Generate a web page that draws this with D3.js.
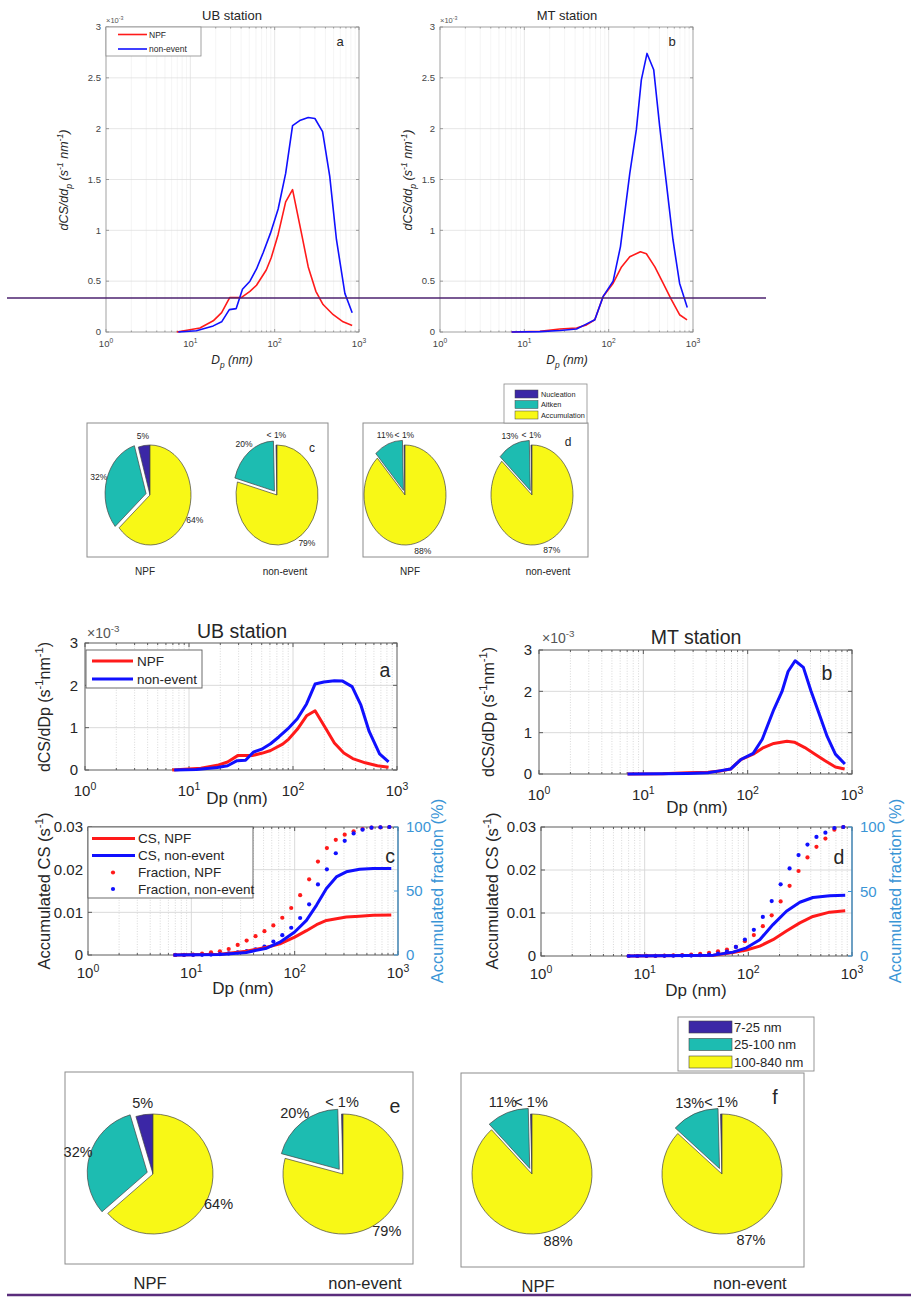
<!DOCTYPE html>
<html>
<head>
<meta charset="utf-8">
<script src="https://cdn.jsdelivr.net/npm/d3@7"></script>
<style>
  body { margin: 0; background: #fff; }
  svg { display: block; }
  text { font-family: "Liberation Sans", Arial, Helvetica, sans-serif; }
</style>
</head>
<body>
<svg id="fig" width="911" height="1297"></svg>
<script>
// ---------------------------------------------------------------
// Size-resolved condensation sink dCS/dDp (units of 1e-3 s^-1 nm^-1)
// ---------------------------------------------------------------
const ubNpfDp  = [6.9, 13, 18.7, 23.5, 29.4, 40.5, 50.9, 60.9, 79.5, 91, 110, 135, 163, 208, 250, 308, 375, 495, 648, 830];
const ubNpfCS  = [0, 0.04, 0.11, 0.19, 0.34, 0.34, 0.40, 0.46, 0.61, 0.73, 0.96, 1.28, 1.40, 0.97, 0.64, 0.40, 0.27, 0.17, 0.10, 0.065];
const ubNonDp  = [7.2, 11.8, 18.7, 23.5, 29, 35, 41.5, 50.9, 60.9, 73, 89, 110, 135, 163, 198, 250, 300, 370, 450, 540, 680, 830];
const ubNonCS  = [0, 0.013, 0.06, 0.10, 0.22, 0.23, 0.42, 0.50, 0.62, 0.78, 0.97, 1.21, 1.56, 2.03, 2.08, 2.11, 2.10, 1.97, 1.53, 0.91, 0.38, 0.19];
const mtNpfDp  = [7.06, 15.3, 26.4, 41.6, 54.6, 68.5, 86, 113, 142, 178, 238, 280, 353, 442, 552, 693, 850];
const mtNpfCS  = [0, 0.007, 0.03, 0.04, 0.07, 0.12, 0.35, 0.48, 0.64, 0.74, 0.79, 0.77, 0.64, 0.48, 0.32, 0.17, 0.12];
const mtNonDp  = [7.06, 15.3, 26.4, 41.6, 52, 68.5, 86, 113, 138, 178, 213, 244, 285, 342, 403, 484, 578, 693, 855];
const mtNonCS  = [0, 0.004, 0.015, 0.03, 0.07, 0.12, 0.35, 0.50, 0.84, 1.56, 1.99, 2.48, 2.74, 2.58, 2.02, 1.46, 0.91, 0.48, 0.24];

// Accumulated condensation sink (s^-1)
const ubAccDp  = [6.7, 19, 34, 53.5, 72, 100, 130, 163, 203, 253, 316, 425, 575, 861];
const ubAccNpf = [0, 0.0002, 0.0009, 0.0018, 0.0026, 0.0042, 0.0057, 0.0071, 0.0081, 0.0085, 0.0089, 0.0091, 0.0093, 0.0094];
const ubAccNon = [0, 0.0001, 0.0006, 0.0016, 0.0030, 0.0054, 0.0081, 0.0117, 0.0156, 0.0183, 0.0195, 0.0201, 0.0203, 0.0203];
const mtAccDp  = [6.9, 46, 71, 96, 129, 173, 233, 314, 420, 609, 860];
const mtAccNpf = [0, 0.0002, 0.0008, 0.0014, 0.0023, 0.0038, 0.0058, 0.0077, 0.0092, 0.0102, 0.0105];
const mtAccNon = [0, 0.0002, 0.0009, 0.0019, 0.0038, 0.0073, 0.0104, 0.0125, 0.0136, 0.0140, 0.0141];

// Accumulated fraction of CS per size bin (%)
const binDp      = [7.0, 8.5, 10.4, 12.7, 15.5, 18.9, 23.0, 28.1, 34.3, 41.8, 51.0, 62.2, 75.9, 92.6, 113, 138, 168, 205, 250, 305, 372, 454, 554, 676, 825];
const ubFracNpf  = [0, 0.1, 0.3, 1.0, 2.1, 2.9, 4.7, 7.9, 11.3, 14.7, 18.6, 23.1, 29.1, 36.7, 46.7, 59.1, 73.0, 83.5, 90.0, 94.0, 96.6, 98.4, 99.5, 99.7, 100];
const ubFracNon  = [0, 0, 0.05, 0.1, 0.3, 0.7, 1.2, 2.0, 3.0, 4.5, 6.6, 10.5, 15.5, 21.3, 28.9, 39.6, 55.1, 66.9, 79.5, 89.2, 95.0, 97.9, 99.5, 99.8, 100];
const mtFracNpf  = [0, 0, 0.1, 0.2, 0.3, 0.5, 0.7, 1.0, 1.6, 2.5, 3.6, 5.0, 7.0, 11.5, 16.2, 23.1, 31.5, 42.3, 54.4, 65.9, 76.4, 84.6, 91.0, 97.9, 100];
const mtFracNon  = [0, 0, 0, 0.05, 0.1, 0.2, 0.3, 0.3, 0.6, 1.0, 1.8, 3.5, 7.0, 12.8, 20.3, 30.3, 42.6, 55.6, 67.9, 78.2, 86.4, 92.3, 95.6, 99.2, 100];

// Mode contributions to total CS
const modeNames   = ["Nucleation", "Aitken", "Accumulation"];
const rangeNames  = ["7-25 nm", "25-100 nm", "100-840 nm"];
const ubNpfShare  = [0.046, 0.318, 0.636];
const ubNpfLabels = ["5%", "32%", "64%"];
const ubNonShare  = [0.004, 0.204, 0.792];
const ubNonLabels = ["< 1%", "20%", "79%"];
const mtNpfShare  = [0.004, 0.114, 0.882];
const mtNpfLabels = ["< 1%", "11%", "88%"];
const mtNonShare  = [0.004, 0.128, 0.868];
const mtNonLabels = ["< 1%", "13%", "87%"];

// Axis tick values
const xDecades   = [1, 10, 100, 1000];
const xExponents = ["0", "1", "2", "3"];
const topYTicks  = [0, 0.5, 1, 1.5, 2, 2.5, 3];
const botYTicks  = [0, 1, 2, 3];
const accYTicks  = [0, 0.01, 0.02, 0.03];
const fracTicks  = [0, 50, 100];

// ---------------------------------------------------------------
const svg = d3.select("#fig");
const INK = "#262626";
const RED = "#ff1a1a";
const BLUE = "#1010ff";
const RBLUE = "#3a95d6";
const PIE_COLORS = ["#3b27a6", "#1dbcb1", "#f8f816"];

// text with optional super/subscript runs; y is the baseline
function label(parent, x, y, fs, anchor, parts, opts = {}) {
  const t = parent.append("text").attr("x", x).attr("y", y)
    .attr("font-size", fs).attr("text-anchor", anchor)
    .attr("fill", opts.fill || INK);
  if (opts.italic) t.attr("font-style", "italic");
  if (opts.rotate) t.attr("transform", `rotate(${opts.rotate},${x},${y})`);
  if (typeof parts === "string") parts = [[parts, "n"]];
  let shift = 0;
  parts.forEach(([s, k]) => {
    const target = k === "sup" ? -0.42 * fs : k === "sub" ? 0.3 * fs : 0;
    const ts = t.append("tspan").text(s).attr("dy", target - shift);
    if (k !== "n") ts.attr("font-size", fs * 0.7);
    shift = target;
  });
  return t;
}

// log-x axes box with grid and inward ticks
function logPanel(o) {
  const g = svg.append("g");
  const x = d3.scaleLog().domain([1, 1000]).range([o.x0, o.x1]);
  const y = d3.scaleLinear().domain([0, o.ymax]).range([o.y1, o.y0]);
  const minors = [];
  [1, 10, 100].forEach(d => [2, 3, 4, 5, 6, 7, 8, 9].forEach(m => minors.push(d * m)));

  g.selectAll(null).data(minors).join("line")
    .attr("x1", d => x(d)).attr("x2", d => x(d)).attr("y1", o.y0).attr("y2", o.y1)
    .attr("stroke", o.minorColor).attr("stroke-width", o.minorW)
    .attr("stroke-dasharray", o.minorDash || null);
  g.selectAll(null).data([10, 100]).join("line")
    .attr("x1", d => x(d)).attr("x2", d => x(d)).attr("y1", o.y0).attr("y2", o.y1)
    .attr("stroke", o.majorColor).attr("stroke-width", o.majorW);
  g.selectAll(null).data(o.yticks.slice(1, -1)).join("line")
    .attr("x1", o.x0).attr("x2", o.x1).attr("y1", d => y(d)).attr("y2", d => y(d))
    .attr("stroke", o.majorColor).attr("stroke-width", o.majorW);

  g.append("rect").attr("x", o.x0).attr("y", o.y0)
    .attr("width", o.x1 - o.x0).attr("height", o.y1 - o.y0)
    .attr("fill", "none").attr("stroke", o.boxColor).attr("stroke-width", o.boxW);

  const tl = o.tickLen;
  const tickG = g.append("g").attr("stroke", o.boxColor).attr("stroke-width", o.boxW);
  xDecades.forEach(d => {
    tickG.append("line").attr("x1", x(d)).attr("x2", x(d)).attr("y1", o.y1).attr("y2", o.y1 - tl);
    tickG.append("line").attr("x1", x(d)).attr("x2", x(d)).attr("y1", o.y0).attr("y2", o.y0 + tl);
  });
  minors.forEach(d => {
    tickG.append("line").attr("x1", x(d)).attr("x2", x(d)).attr("y1", o.y1).attr("y2", o.y1 - tl * 0.5);
    tickG.append("line").attr("x1", x(d)).attr("x2", x(d)).attr("y1", o.y0).attr("y2", o.y0 + tl * 0.5);
  });
  o.yticks.forEach(v => {
    tickG.append("line").attr("x1", o.x0).attr("x2", o.x0 + tl).attr("y1", y(v)).attr("y2", y(v));
    if (!o.rightAxis)
      tickG.append("line").attr("x1", o.x1).attr("x2", o.x1 - tl).attr("y1", y(v)).attr("y2", y(v));
  });

  xDecades.forEach((d, i) => {
    label(g, x(d), o.y1 + o.xTickDy, o.fs, "middle", [["10", "n"], [xExponents[i], "sup"]], { fill: o.tickFill });
  });
  o.yticks.forEach(v => {
    label(g, o.x0 - o.yTickGap, y(v) + o.fs * 0.35, o.fs, "end", o.yfmt(v), { fill: o.tickFill });
  });
  return { g, x, y };
}

function drawLine(p, xs, ys, color, w) {
  p.g.append("path").datum(d3.zip(xs, ys))
    .attr("d", d3.line().x(d => p.x(d[0])).y(d => p.y(d[1])))
    .attr("fill", "none").attr("stroke", color).attr("stroke-width", w)
    .attr("stroke-linejoin", "round");
}

// ---------------- upper figure: size distributions ----------------
const topStyle = {
  y0: 27, y1: 332, ymax: 3, yticks: topYTicks, yfmt: v => String(v),
  fs: 9.5, tickFill: "#444", xTickDy: 15, yTickGap: 5, tickLen: 3,
  minorColor: "#efefef", minorW: 0.6, majorColor: "#dcdcdc", majorW: 0.7,
  boxColor: "#8a8a8a", boxW: 0.8
};
const tA = logPanel(Object.assign({ x0: 106, x1: 359 }, topStyle));
const tB = logPanel(Object.assign({ x0: 440, x1: 693 }, topStyle));
drawLine(tA, ubNpfDp, ubNpfCS, RED, 1.6);
drawLine(tA, ubNonDp, ubNonCS, BLUE, 1.6);
drawLine(tB, mtNpfDp, mtNpfCS, RED, 1.6);
drawLine(tB, mtNonDp, mtNonCS, BLUE, 1.6);

[[tA, "UB station", "a", 232, 340, 68], [tB, "MT station", "b", 567, 672, 412]].forEach(([p, title, tag, cx, tx, lx]) => {
  label(svg, cx, 20, 13, "middle", title);
  label(svg, tx, 46, 13, "middle", tag);
  label(svg, p.x(1), 23, 7.5, "start", [["\u00d710", "n"], ["-3", "sup"]], { fill: "#555" });
  label(svg, cx, 364, 12, "middle", [["D", "n"], ["p", "sub"], [" (nm)", "n"]], { italic: true });
  label(svg, lx, 180, 12.5, "middle",
    [["dCS/dd", "n"], ["p", "sub"], [" (s", "n"], ["-1", "sup"], [" nm", "n"], ["-1", "sup"], [")", "n"]],
    { italic: true, rotate: -90 });
});

// legend of the upper panel a
{
  const lg = svg.append("g");
  lg.append("rect").attr("x", 106).attr("y", 27).attr("width", 95).attr("height", 29)
    .attr("fill", "#fff").attr("stroke", "#8a8a8a").attr("stroke-width", 0.8);
  [["NPF", RED, 34.5], ["non-event", BLUE, 49]].forEach(([t, c, yy]) => {
    lg.append("line").attr("x1", 118).attr("x2", 147).attr("y1", yy).attr("y2", yy)
      .attr("stroke", c).attr("stroke-width", 1.6);
    label(lg, 149, yy + 3, 8.5, "start", t);
  });
}

// ---------------- pies ----------------
function pieChart(cx, cy, r, sx, shares, labels, fs) {
  const arcs = d3.pie().sort(null).startAngle(0).endAngle(-2 * Math.PI)(shares);
  const arc = d3.arc().innerRadius(0).outerRadius(r);
  const g = svg.append("g").attr("transform", `translate(${cx},${cy}) scale(${sx},1)`);
  arcs.forEach((a, i) => {
    const mid = (a.startAngle + a.endAngle) / 2;
    const off = i === 1 ? r * 0.1 : 0;
    g.append("path").attr("d", arc(a))
      .attr("transform", `translate(${Math.sin(mid) * off},${-Math.cos(mid) * off})`)
      .attr("fill", PIE_COLORS[i]).attr("stroke", "#444").attr("stroke-width", 0.7)
      .attr("vector-effect", "non-scaling-stroke");
  });
  arcs.forEach((a, i) => {
    const mid = (a.startAngle + a.endAngle) / 2;
    const lr = r * 1.2 + (i === 1 ? r * 0.1 : 0);
    label(svg, cx + Math.sin(mid) * lr * sx, cy - Math.cos(mid) * lr + fs * 0.35, fs, "middle", labels[i]);
  });
}

function frame(x, y, w, h, color) {
  svg.append("rect").attr("x", x).attr("y", y).attr("width", w).attr("height", h)
    .attr("fill", "#fff").attr("stroke", color).attr("stroke-width", 1);
}

// upper pies (c, d)
frame(87, 423, 241, 134, "#8c8c8c");
frame(363, 423, 225, 134, "#8c8c8c");
pieChart(150, 495, 50, 0.82, ubNpfShare, ubNpfLabels, 8.5);
pieChart(277, 495, 50, 0.82, ubNonShare, ubNonLabels, 8.5);
pieChart(405, 495, 50, 0.82, mtNpfShare, mtNpfLabels, 8.5);
pieChart(532, 495, 50, 0.82, mtNonShare, mtNonLabels, 8.5);
label(svg, 312, 452, 12, "middle", "c");
label(svg, 568, 446, 12, "middle", "d");
[[145, "NPF"], [285, "non-event"], [410, "NPF"], [548, "non-event"]].forEach(([xx, t]) =>
  label(svg, xx, 575, 10, "middle", t));

// upper pie legend
{
  const lg = svg.append("g");
  lg.append("rect").attr("x", 504).attr("y", 384).attr("width", 83).attr("height", 39)
    .attr("fill", "#fff").attr("stroke", "#8c8c8c").attr("stroke-width", 0.8);
  modeNames.forEach((n, i) => {
    const yy = [394, 404.5, 415][i];
    lg.append("rect").attr("x", 515).attr("y", yy - 4).attr("width", 23).attr("height", 8)
      .attr("fill", PIE_COLORS[i]).attr("stroke", "#444").attr("stroke-width", 0.5);
    label(lg, 541, yy + 2.6, 7.3, "start", n);
  });
}

// ---------------- lower figure: distributions (a, b) ----------------
const botStyle = {
  ymax: 3, yticks: botYTicks, yfmt: v => String(v),
  fs: 15, tickFill: INK, xTickDy: 26, yTickGap: 7, tickLen: 4,
  minorColor: "#c9c9c9", minorW: 0.7, minorDash: "1,1.6", majorColor: "#d6d6d6", majorW: 0.9,
  boxColor: "#5c5c5c", boxW: 1
};
const bA = logPanel(Object.assign({ x0: 85, x1: 397, y0: 643, y1: 770 }, botStyle));
const bB = logPanel(Object.assign({ x0: 539, x1: 852, y0: 650, y1: 774 }, botStyle));
drawLine(bA, ubNpfDp, ubNpfCS, RED, 3);
drawLine(bA, ubNonDp, ubNonCS, BLUE, 3);
drawLine(bB, mtNpfDp, mtNpfCS, RED, 3);
drawLine(bB, mtNonDp, mtNonCS, BLUE, 3);

label(svg, 242, 638, 19.5, "middle", "UB station");
label(svg, 696, 644, 19.5, "middle", "MT station");
label(svg, 385, 677, 19.5, "middle", "a");
label(svg, 827, 680, 19.5, "middle", "b");
label(svg, 87, 638, 14, "start", [["\u00d710", "n"], ["-3", "sup"]], { fill: "#555" });
label(svg, 542, 643, 14, "start", [["\u00d710", "n"], ["-3", "sup"]], { fill: "#555" });
label(svg, 237, 804, 17, "middle", "Dp (nm)");
label(svg, 697, 813, 17, "middle", "Dp (nm)");
[[50, 707], [494, 712]].forEach(([xx, yy]) =>
  label(svg, xx, yy, 16, "middle",
    [["dCS/dDp (s", "n"], ["-1", "sup"], ["nm", "n"], ["-1", "sup"], [")", "n"]], { rotate: -90 }));

{
  const lg = svg.append("g");
  lg.append("rect").attr("x", 86).attr("y", 650).attr("width", 116).attr("height", 38)
    .attr("fill", "#fff").attr("stroke", "#5c5c5c").attr("stroke-width", 0.9);
  [["NPF", RED, 661], ["non-event", BLUE, 679]].forEach(([t, c, yy]) => {
    lg.append("line").attr("x1", 92).attr("x2", 133).attr("y1", yy).attr("y2", yy)
      .attr("stroke", c).attr("stroke-width", 3);
    label(lg, 137, yy + 4.6, 13.5, "start", t);
  });
}

// ---------------- lower figure: accumulated CS (c, d) ----------------
const accStyle = {
  ymax: 0.03, yticks: accYTicks, yfmt: v => (v === 0 ? "0" : v.toFixed(2)),
  fs: 15, tickFill: INK, xTickDy: 23, yTickGap: 5, tickLen: 4, rightAxis: true,
  minorColor: "#c9c9c9", minorW: 0.7, minorDash: "1,1.6", majorColor: "#d6d6d6", majorW: 0.9,
  boxColor: "#5c5c5c", boxW: 1
};
const pC = logPanel(Object.assign({ x0: 88, x1: 398, y0: 827, y1: 955 }, accStyle));
const pD = logPanel(Object.assign({ x0: 541, x1: 852, y0: 827, y1: 956 }, accStyle));

function fractionAxis(p) {
  const yf = d3.scaleLinear().domain([0, 100]).range(p.y.range());
  const x1 = p.x.range()[1];
  p.g.append("line").attr("x1", x1).attr("x2", x1).attr("y1", yf(0)).attr("y2", yf(100))
    .attr("stroke", RBLUE).attr("stroke-width", 1.1);
  fracTicks.forEach(v => {
    p.g.append("line").attr("x1", x1).attr("x2", x1 - 4).attr("y1", yf(v)).attr("y2", yf(v))
      .attr("stroke", RBLUE).attr("stroke-width", 1);
    label(p.g, x1 + 8, yf(v) + 15 * 0.35, 15, "start", String(v), { fill: RBLUE });
  });
  return yf;
}
function fractionDots(p, yf, vals, color) {
  p.g.selectAll(null).data(d3.zip(binDp, vals)).join("circle")
    .attr("cx", d => p.x(d[0])).attr("cy", d => yf(d[1])).attr("r", 2.1).attr("fill", color);
}

const fC = fractionAxis(pC);
const fD = fractionAxis(pD);
fractionDots(pC, fC, ubFracNpf, RED);
fractionDots(pC, fC, ubFracNon, BLUE);
fractionDots(pD, fD, mtFracNpf, RED);
fractionDots(pD, fD, mtFracNon, BLUE);
drawLine(pC, ubAccDp, ubAccNpf, RED, 3);
drawLine(pC, ubAccDp, ubAccNon, BLUE, 3);
drawLine(pD, mtAccDp, mtAccNpf, RED, 3);
drawLine(pD, mtAccDp, mtAccNon, BLUE, 3);

label(svg, 390, 863, 19.5, "middle", "c");
label(svg, 839, 864, 19.5, "middle", "d");
label(svg, 243, 994, 17, "middle", "Dp (nm)");
label(svg, 696, 996, 17, "middle", "Dp (nm)");
[[50, 891], [498, 891]].forEach(([xx, yy]) =>
  label(svg, xx, yy, 16.5, "middle", [["Accumulated CS (s", "n"], ["-1", "sup"], [")", "n"]], { rotate: -90 }));
[[443, 891], [901, 891]].forEach(([xx, yy]) =>
  label(svg, xx, yy, 16.5, "middle", "Accumulated fraction (%)", { rotate: -90, fill: RBLUE }));

{
  const lg = svg.append("g");
  lg.append("rect").attr("x", 88).attr("y", 827).attr("width", 165).attr("height", 71)
    .attr("fill", "#fff").attr("stroke", "#5c5c5c").attr("stroke-width", 0.9);
  [["CS, NPF", RED, 838.5, "line"], ["CS, non-event", BLUE, 855.5, "line"],
   ["Fraction, NPF", RED, 872.5, "dot"], ["Fraction, non-event", BLUE, 889, "dot"]].forEach(([t, c, yy, kind]) => {
    if (kind === "line")
      lg.append("line").attr("x1", 92).attr("x2", 135).attr("y1", yy).attr("y2", yy)
        .attr("stroke", c).attr("stroke-width", 3);
    else
      lg.append("circle").attr("cx", 113).attr("cy", yy).attr("r", 2.1).attr("fill", c);
    label(lg, 138, yy + 4.6, 13.5, "start", t);
  });
}

// ---------------- lower pies (e, f) ----------------
frame(65, 1072, 348, 192, "#8c8c8c");
frame(461, 1073, 343, 194, "#8c8c8c");
pieChart(153, 1174, 60, 1, ubNpfShare, ubNpfLabels, 14.5);
pieChart(343, 1174, 60, 1, ubNonShare, ubNonLabels, 14.5);
pieChart(532, 1174, 60, 1, mtNpfShare, mtNpfLabels, 14.5);
pieChart(722, 1174, 60, 1, mtNonShare, mtNonLabels, 14.5);
label(svg, 395, 1113, 19.5, "middle", "e");
label(svg, 775, 1104, 19.5, "middle", "f");
[[150, 1289, "NPF"], [365, 1289, "non-event"], [538, 1292, "NPF"], [750, 1289, "non-event"]].forEach(([xx, yy, t]) =>
  label(svg, xx, yy, 16.5, "middle", t));

{
  const lg = svg.append("g");
  lg.append("rect").attr("x", 678).attr("y", 1017).attr("width", 136).attr("height", 54)
    .attr("fill", "#fff").attr("stroke", "#8c8c8c").attr("stroke-width", 0.9);
  rangeNames.forEach((n, i) => {
    const yy = [1027, 1044.5, 1062][i];
    lg.append("rect").attr("x", 689).attr("y", yy - 6).attr("width", 43).attr("height", 12)
      .attr("fill", PIE_COLORS[i]).attr("stroke", "#444").attr("stroke-width", 0.6);
    label(lg, 734, yy + 4.5, 13, "start", n);
  });
}

// ---------------- separator rules ----------------
svg.append("line").attr("x1", 7).attr("x2", 766).attr("y1", 298).attr("y2", 298)
  .attr("stroke", "#4d226f").attr("stroke-width", 1.6);
svg.append("line").attr("x1", 7).attr("x2", 911).attr("y1", 1295).attr("y2", 1295)
  .attr("stroke", "#5a2d7c").attr("stroke-width", 2.5);
</script>
</body>
</html>
